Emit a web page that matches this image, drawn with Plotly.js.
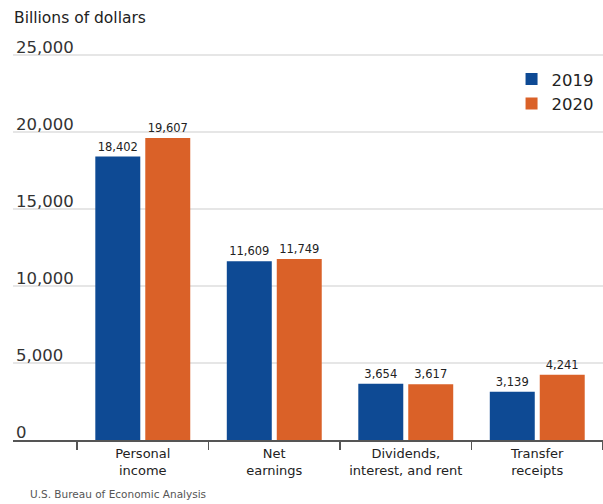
<!DOCTYPE html>
<html>
<head>
<meta charset="utf-8">
<script src="https://cdn.plot.ly/plotly-3.0.1.min.js"></script>
<style>
html,body{margin:0;padding:0;background:#fff;}
#chart{width:603px;height:504px;}
</style>
</head>
<body>
<div id="chart"></div>
<script>
const categories = ["Personal<br>income", "Net<br>earnings", "Dividends,<br>interest, and rent", "Transfer<br>receipts"];
const values2019 = [18402, 11609, 3654, 3139];
const values2020 = [19607, 11749, 3617, 4241];
const seriesNames = ["2019", "2020"];
const yTicks = [0, 5000, 10000, 15000, 20000, 25000];
const yTickLabels = ["0", "5,000", "10,000", "15,000", "20,000", "25,000"];

const FONT = "DejaVu Sans, sans-serif";
const fmt = v => v.toLocaleString("en-US");

const traces = [
  {
    type: "bar", name: seriesNames[0], x: categories, y: values2019,
    marker: {color: "#0E4A94"},
    text: values2019.map(fmt), textposition: "outside", cliponaxis: false,
    textfont: {family: FONT, size: 11.5, color: "#222"},
    hoverinfo: "skip"
  },
  {
    type: "bar", name: seriesNames[1], x: categories, y: values2020,
    marker: {color: "#DA6128"},
    text: values2020.map(fmt), textposition: "outside", cliponaxis: false,
    textfont: {family: FONT, size: 11.5, color: "#222"},
    hoverinfo: "skip"
  }
];

const layout = {
  width: 603, height: 504,
  margin: {l: 13, r: 0, t: 36, b: 64},
  paper_bgcolor: "#fff", plot_bgcolor: "#fff",
  font: {family: FONT, color: "#222"},
  barmode: "group", bargap: 0.24, bargroupgap: 0.1,
  showlegend: true,
  legend: {x: 0.845, y: 0.936, xanchor: "left", yanchor: "top",
           font: {family: FONT, size: 16.5, color: "#222"},
           bgcolor: "rgba(0,0,0,0)"},
  xaxis: {
    type: "category", categoryorder: "array", categoryarray: categories,
    range: [-0.987, 3.5],
    tickson: "boundaries", ticks: "outside", ticklen: 8, tickwidth: 1.5, tickcolor: "#555",
    showgrid: false, zeroline: false, showline: true, linecolor: "#555", linewidth: 2,
    tickfont: {family: FONT, size: 13, color: "#222"}, fixedrange: true
  },
  yaxis: {
    range: [0, 26234], tickmode: "array", tickvals: yTicks, ticktext: yTickLabels,
    ticklabelposition: "inside top", ticklabeloverflow: "allow", ticklabelshift: 4,
    ticks: "", showgrid: true, gridcolor: "#e6e6e6", gridwidth: 2,
    zeroline: false, showline: false,
    tickfont: {family: FONT, size: 16.5, color: "#333"}, fixedrange: true
  },
  annotations: [
    {text: "Billions of dollars", xref: "paper", yref: "paper", x: -0.001, y: 1.0,
     xanchor: "left", yanchor: "bottom", yshift: 7, showarrow: false,
     font: {family: FONT, size: 15.5, color: "#222"}},
    {text: "U.S. Bureau of Economic Analysis", xref: "paper", yref: "paper", x: 0.026, y: 0,
     xanchor: "left", yanchor: "top", yshift: -46, showarrow: false,
     font: {family: FONT, size: 10.5, color: "#555"}}
  ]
};

Plotly.newPlot("chart", traces, layout, {displayModeBar: false, staticPlot: true});
</script>
</body>
</html>
